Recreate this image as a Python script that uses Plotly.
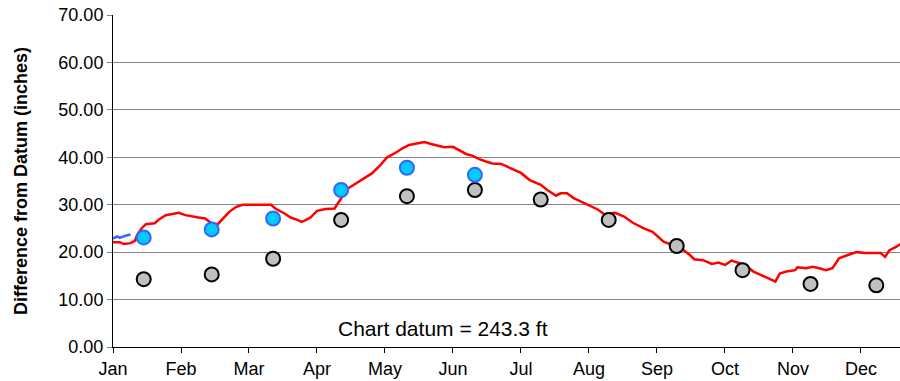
import pandas as pd
import plotly.graph_objects as go

YEAR_START = pd.Timestamp("2019-01-01")

# Daily water level (day of year, inches above chart datum)
level_days = [0, 3, 5, 8, 10, 11, 13, 15, 19, 21, 24, 27, 30, 33, 36, 39, 42, 44, 46, 48,
              50, 53, 56, 59, 72, 74, 78, 81, 84, 86, 88, 90, 93, 97, 101, 104, 106, 110,
              113, 118, 122, 125, 129, 132, 135, 139, 142, 145, 148, 151, 155, 158, 161,
              164, 167, 170, 173, 177, 181, 186, 190, 195, 198, 202, 204, 207, 210, 214,
              218, 221, 224, 229, 233, 237, 242, 246, 251, 255, 259, 263, 265, 269, 273,
              276, 279, 282, 285, 288, 292, 296, 300, 302, 304, 307, 311, 312, 316, 319,
              322, 325, 328, 331, 335, 339, 343, 347, 350, 352, 354, 357, 359]
level_values = [22.1, 22.1, 21.7, 21.9, 22.4, 23.6, 25.0, 25.9, 26.1, 26.9, 27.8, 28.0,
                28.3, 27.8, 27.5, 27.3, 27.1, 26.4, 25.9, 26.0, 27.0, 28.5, 29.5, 30.0,
                30.0, 29.2, 28.2, 27.3, 26.8, 26.4, 26.8, 27.3, 28.7, 29.1, 29.2, 31.3,
                33.1, 34.3, 35.2, 36.6, 38.4, 40.0, 41.0, 41.9, 42.6, 42.9, 43.2, 42.8,
                42.4, 42.1, 42.2, 41.5, 40.7, 40.3, 39.6, 39.1, 38.7, 38.6, 37.7, 36.7,
                35.2, 34.2, 33.1, 31.9, 32.4, 32.4, 31.4, 30.5, 29.5, 29.0, 28.0, 28.3,
                27.5, 26.2, 25.0, 24.3, 22.2, 21.5, 20.8, 19.4, 18.5, 18.3, 17.5, 17.8,
                17.3, 18.2, 17.8, 17.3, 15.9, 15.0, 14.1, 13.8, 15.5, 15.9, 16.2, 16.8,
                16.6, 16.9, 16.6, 16.2, 16.6, 18.7, 19.4, 20.0, 19.8, 19.8, 19.8, 19.0,
                20.4, 21.1, 21.7]

# Previous-year carry-over (short segment at the start of January)
prior_days = [0, 2, 3, 5, 6, 8]
prior_values = [22.9, 23.3, 23.0, 23.4, 23.5, 23.7]

# Monthly mid-month readings
current_dates = ["2019-01-15", "2019-02-15", "2019-03-15", "2019-04-15",
                 "2019-05-15", "2019-06-15"]
current_values = [23.1, 24.8, 27.1, 33.1, 37.8, 36.3]

average_dates = ["2019-01-15", "2019-02-15", "2019-03-15", "2019-04-15",
                 "2019-05-15", "2019-06-15", "2019-07-15", "2019-08-15",
                 "2019-09-15", "2019-10-15", "2019-11-15", "2019-12-15"]
average_values = [14.3, 15.3, 18.6, 26.8, 31.8, 33.1, 31.1, 26.8, 21.3, 16.2, 13.3, 13.0]

month_labels = ["Jan", "Feb", "Mar", "Apr", "May", "Jun",
                "Jul", "Aug", "Sep", "Oct", "Nov", "Dec"]
y_ticks = [0, 10, 20, 30, 40, 50, 60, 70]

FONT = "Liberation Sans, Arial, sans-serif"


def to_dates(days):
    return [YEAR_START + pd.Timedelta(days=d) for d in days]


# Month ticks every 31 days, as on the original axis
tick_dates = to_dates([31 * i for i in range(len(month_labels))])

fig = go.Figure()

fig.add_trace(go.Scatter(
    x=to_dates(prior_days), y=prior_values, mode="lines",
    line=dict(color="#3366FF", width=2.5), showlegend=False, hoverinfo="skip"))

fig.add_trace(go.Scatter(
    x=to_dates(level_days), y=level_values, mode="lines",
    line=dict(color="#FF0000", width=2.5), showlegend=False))

fig.add_trace(go.Scatter(
    x=pd.to_datetime(average_dates), y=average_values, mode="markers",
    marker=dict(size=14, color="#C0C0C0", line=dict(color="#000000", width=2)),
    showlegend=False))

fig.add_trace(go.Scatter(
    x=pd.to_datetime(current_dates), y=current_values, mode="markers",
    marker=dict(size=14, color="#00CCFF", line=dict(color="#3366FF", width=2)),
    showlegend=False))

fig.add_annotation(
    x=0.4187, xref="paper", y=3.8, yref="y",
    text="Chart datum = 243.3 ft", showarrow=False,
    font=dict(family=FONT, size=21, color="#000000"),
    xanchor="center", yanchor="middle")

fig.update_xaxes(
    type="date",
    range=[YEAR_START, YEAR_START + pd.Timedelta(days=358.8)],
    tickvals=tick_dates, ticktext=month_labels,
    ticks="outside", ticklen=5, tickcolor="#000000",
    showline=True, linecolor="#000000", linewidth=1,
    showgrid=False, zeroline=False,
    tickfont=dict(family=FONT, size=18, color="#000000"))

fig.update_yaxes(
    range=[0, 70], tickvals=y_ticks,
    ticktext=[f"{v:.2f}" for v in y_ticks],
    ticks="outside", ticklen=5, tickcolor="#808080",
    showline=True, linecolor="#000000", linewidth=1,
    showgrid=True, gridcolor="#858585", gridwidth=1, zeroline=False,
    tickfont=dict(family=FONT, size=18, color="#000000"),
    title=dict(text="<b>Difference from Datum (inches)</b>",
               font=dict(family=FONT, size=18, color="#000000"), standoff=26))

fig.update_layout(
    width=900, height=381,
    margin=dict(l=113, r=0, t=15, b=34),
    paper_bgcolor="#FFFFFF", plot_bgcolor="#FFFFFF",
    showlegend=False)

fig.write_html("out.html")
